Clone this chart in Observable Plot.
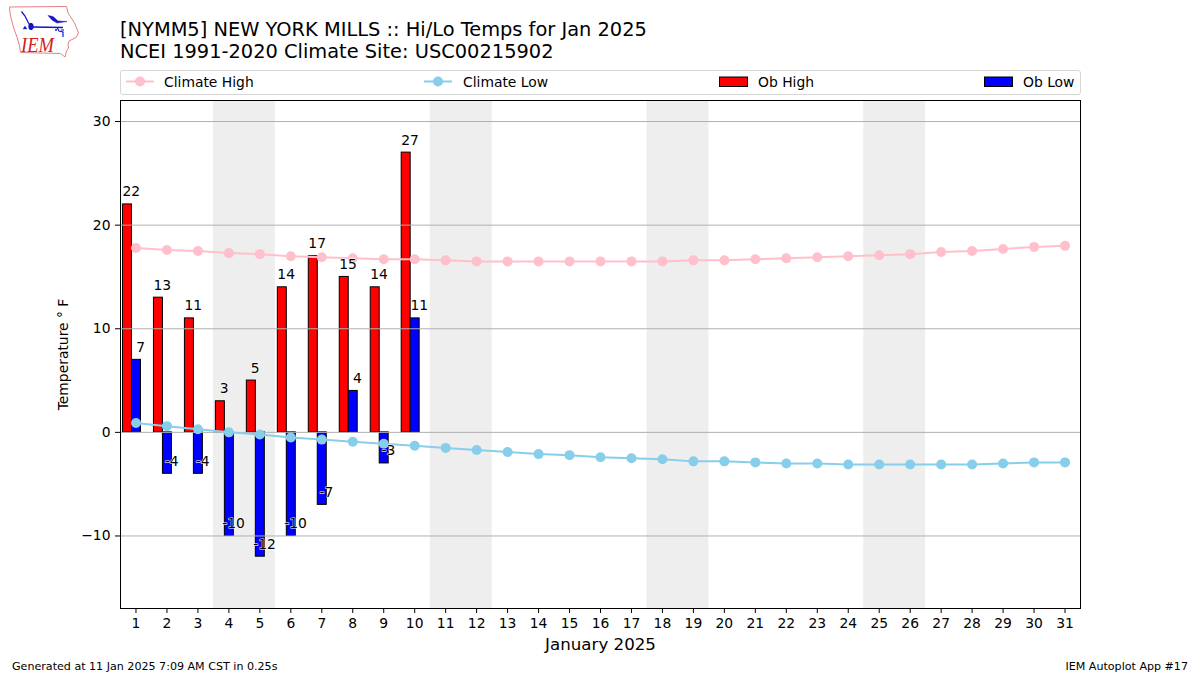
<!DOCTYPE html>
<html><head><meta charset="utf-8">
<script src="https://cdn.jsdelivr.net/npm/d3@7"></script>
<script src="https://cdn.jsdelivr.net/npm/@observablehq/plot@0.6"></script>
<style>
html,body{margin:0;padding:0;background:#fff}
body{width:1200px;height:675px;position:relative;overflow:hidden;font-family:"DejaVu Sans",sans-serif;color:#000}
#chart{position:absolute;left:0;top:0}
#chart svg{display:block;background:#fff}
.abs{position:absolute;white-space:nowrap}
#title{left:120px;top:19px;font-size:19.4px;line-height:22px}
#legend{left:120px;top:70px;width:959px;height:23px;border:1px solid #d6d6d6;border-radius:3px;background:#fff;box-sizing:content-box}
.lab{font-size:13.89px;top:74px;line-height:16px}
.sw{position:absolute}
#gen{left:12px;top:660px;font-size:11.1px;line-height:14px}
#app{right:12px;top:660px;font-size:11.1px;line-height:14px}
#logo{left:0;top:0}
</style></head><body>
<div id="chart"></div>
<svg id="logo" class="abs" width="90" height="62" viewBox="0 0 90 62">
<path d="M9.500 7 L66.500 6.500 L68 13 L72 19 L75 24 L78.500 33 L76 37.500 L69 41 L68 44 L68.500 48 L66.500 51 L65 57 L60.500 53.500 L20.500 52.500 L19.500 46 L17 37 L14 29 L11.500 20 L10 13 Z" fill="none" stroke="#e58080" stroke-width="1"/>
<g stroke="#1414c8" fill="#1414c8">
<path d="M32 27 L63 27.500 M21.500 11.500 L25 16 L28.500 23 L31 27" stroke-width="1.300" fill="none"/>
<ellipse cx="31" cy="26.500" rx="2.200" ry="3.300"/>
<path d="M48 15.500 L53 16.500 L58 21 L67 21.500 L57 23 L52 20 Z" stroke-width="0.500"/>
<path d="M57 27.500 L59 31 L63 32 L63 37 M61 30 L64 30" stroke-width="1.200" fill="none"/>
<path d="M23 29 L25 26 L27 29 Z" stroke-width="0.300"/>
<path d="M55 30 L57 30" stroke-width="1.500"/>
</g>
<text x="21" y="52" font-family="Liberation Serif" font-style="italic" font-size="21" textLength="33" lengthAdjust="spacingAndGlyphs" fill="#d42020">IEM</text>
</svg>
<div id="title" class="abs">[NYMM5] NEW YORK MILLS :: Hi/Lo Temps for Jan 2025<br>NCEI 1991-2020 Climate Site: USC00215902</div>
<div id="legend" class="abs"></div>
<svg class="abs" style="left:120px;top:70px" width="960" height="25">
<g stroke-width="2"><line x1="6" x2="34" y1="11.500" y2="11.500" stroke="#ffc0cb"/><circle cx="20" cy="11.500" r="5" fill="#ffc0cb"/>
<line x1="304" x2="332" y1="11.500" y2="11.500" stroke="#87ceeb"/><circle cx="318" cy="11.500" r="5" fill="#87ceeb"/></g>
<rect x="599.500" y="7" width="28" height="9.500" fill="#f00" stroke="#000"/>
<rect x="864.500" y="7" width="28" height="9.500" fill="#00f" stroke="#000"/>
</svg>
<div class="abs lab" style="left:164px">Climate High</div>
<div class="abs lab" style="left:463px">Climate Low</div>
<div class="abs lab" style="left:758px">Ob High</div>
<div class="abs lab" style="left:1023px">Ob Low</div>
<div id="gen" class="abs">Generated at 11 Jan 2025 7:09 AM CST in 0.25s</div>
<div id="app" class="abs">IEM Autoplot App #17</div>
<script>
const days = d3.range(1, 32);
const climateHigh = [17.8,17.6,17.5,17.3,17.2,17.0,16.9,16.8,16.7,16.7,16.6,16.5,16.5,16.5,16.5,16.5,16.5,16.5,16.6,16.6,16.7,16.8,16.9,17.0,17.1,17.2,17.4,17.5,17.7,17.9,18.0];
const climateLow = [0.9,0.6,0.3,0.0,-0.2,-0.5,-0.7,-0.9,-1.1,-1.3,-1.5,-1.7,-1.9,-2.1,-2.2,-2.4,-2.5,-2.6,-2.8,-2.8,-2.9,-3.0,-3.0,-3.1,-3.1,-3.1,-3.1,-3.1,-3.0,-2.9,-2.9];
const obDays = [1,2,3,4,5,6,7,8,9,10];
const obHigh = [22,13,11,3,5,14,17,15,14,27];
const obLow = [7,-4,-4,-10,-12,-10,-7,4,-3,11];
const weekends = [[3.5,5.5],[10.5,12.5],[17.5,19.5],[24.5,26.5]];
const yTicks = [-10,0,10,20,30];

const hi = obDays.map((d,i)=>({day:d,v:obHigh[i]}));
const lo = obDays.map((d,i)=>({day:d,v:obLow[i]}));
const chi = days.map((d,i)=>({day:d,v:climateHigh[i]}));
const clo = days.map((d,i)=>({day:d,v:climateLow[i]}));
const font = "DejaVu Sans";

const plot = Plot.plot({
  width:1200, height:675,
  marginLeft:120, marginRight:120, marginTop:100, marginBottom:67,
  style:{fontFamily:font, fontSize:"13.89px", color:"#000", background:"#fff"},
  x:{type:"linear", domain:[0.5,31.5], ticks:days, tickFormat:d=>String(d), label:null},
  y:{domain:[-17,32.03], ticks:yTicks, label:null},
  marks:[
    Plot.rectY(weekends,{x1:d=>d[0],x2:d=>d[1],y1:-17,y2:32.03,fill:"#eeeeee"}),
    Plot.rectY(hi,{x1:d=>d.day-0.42,x2:d=>d.day-0.13,y1:0,y2:"v",fill:"#ff0000",stroke:"#000",strokeWidth:1}),
    Plot.rectY(lo,{x1:d=>d.day-0.13,x2:d=>d.day+0.16,y1:0,y2:"v",fill:"#0000ff",stroke:"#000",strokeWidth:1}),
    Plot.ruleY(yTicks,{stroke:"#b0b0b0",strokeWidth:1}),
    Plot.line(chi,{x:"day",y:"v",stroke:"#ffc0cb",strokeWidth:2}),
    Plot.dot(chi,{x:"day",y:"v",fill:"#ffc0cb",r:5}),
    Plot.line(clo,{x:"day",y:"v",stroke:"#87ceeb",strokeWidth:2}),
    Plot.dot(clo,{x:"day",y:"v",fill:"#87ceeb",r:5}),
    Plot.text(hi,{x:d=>d.day-0.15,y:"v",text:d=>String(d.v),dy:-8,lineAnchor:"bottom",fontSize:13.89,fill:"#000",stroke:"#fff",strokeWidth:1}),
    Plot.text(lo,{x:d=>d.day+0.15,y:"v",text:d=>(d.v<0?"-":"")+Math.abs(d.v),dy:-8,lineAnchor:"bottom",fontSize:13.89,fill:"#000",stroke:"#fff",strokeWidth:1}),
    Plot.frame({stroke:"#000",strokeWidth:1}),
    Plot.axisX({ticks:days,tickFormat:d=>String(d),tickSize:5,tickPadding:5,label:null,fontSize:13.89}),
    Plot.axisY({ticks:yTicks,tickSize:5,tickPadding:5,label:null,fontSize:13.89}),
    Plot.text(["January 2025"],{frameAnchor:"bottom",dy:41,fontSize:16.67,fill:"#000"}),
    Plot.text(["Temperature ° F"],{frameAnchor:"left",rotate:-90,dx:-56.5,textAnchor:"middle",fontSize:13.89,fill:"#000"})
  ]
});
document.getElementById("chart").appendChild(plot);
</script>
</body></html>
